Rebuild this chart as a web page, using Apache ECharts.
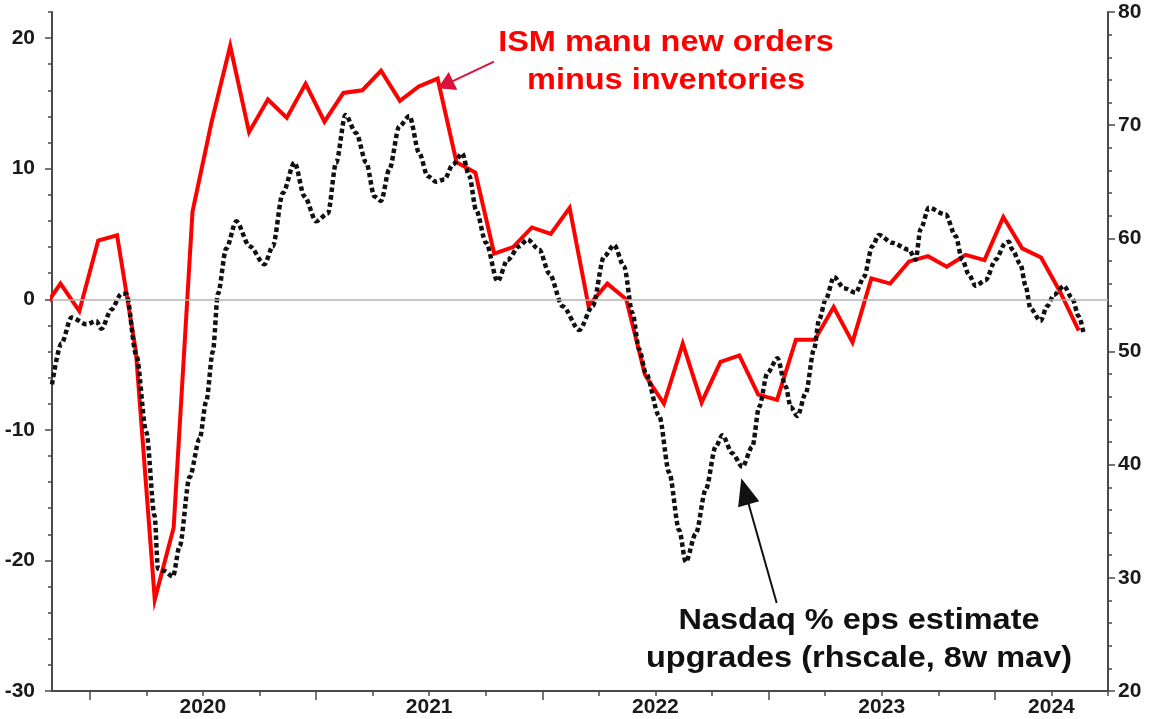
<!DOCTYPE html>
<html>
<head>
<meta charset="utf-8">
<script src="https://cdn.jsdelivr.net/npm/echarts@6/dist/echarts.min.js"></script>
<style>
html,body{margin:0;padding:0;background:#fff}
#chart{width:1154px;height:719px}
</style>
</head>
<body>
<div id="chart"></div>
<script>
// x unit: months from Jan 2020
// ISM new orders minus inventories, monthly, first value = Oct 2019 (lhs)
var ismStart = -3;
var ismValues = [-0.9, 1.2, -0.9, 4.5, 4.9, -4.0, -23.0, -17.5, 6.7, 13.5,
  19.4, 12.8, 15.3, 13.9, 16.5, 13.6, 15.8, 16.0, 17.5, 15.2,
  16.3, 16.9, 10.5, 9.7, 3.5, 4.0, 5.5, 5.0, 7.0, -0.5,
  1.2, 0.0, -5.8, -8.0, -3.4, -7.9, -4.8, -4.3, -7.3, -7.7,
  -3.1, -3.1, -0.6, -3.3, 1.6, 1.2, 2.9, 3.3, 2.5, 3.4,
  3.0, 6.3, 3.9, 3.2, 0.6, -2.4];

// Nasdaq % eps estimate upgrades, 8w mav (rhs)
var nasdaqX = [-2.0, -1.5, -0.97, -0.17, 0.35, 0.62, 1.15, 1.68, 1.94, 2.47,
  3.0, 3.44, 3.62, 3.97, 4.41, 4.77, 5.30, 5.83, 6.18, 6.53,
  6.80, 7.24, 7.77, 8.48, 9.27, 9.71, 10.24, 10.86, 11.39, 12.01,
  12.63, 13.07, 13.56, 14.13, 14.66, 15.10, 15.45, 15.89, 16.42, 16.95,
  17.48, 17.92, 18.37, 18.81, 19.25, 19.75, 20.13, 20.49, 21.02, 21.63,
  22.16, 22.78, 23.22, 23.84, 24.37, 25.08, 25.96, 26.67, 27.28, 27.81,
  28.34, 28.78, 29.14, 29.49, 30.20, 30.73, 31.26, 31.61, 32.14, 32.67,
  33.20, 33.55, 34.08, 34.61, 35.14, 35.50, 35.94, 36.47, 36.91, 37.17,
  37.53, 37.97, 38.41, 38.68, 39.03, 39.47, 40.0, 40.62, 41.06, 41.50,
  41.85, 42.56, 43.44, 43.80, 44.06, 44.50, 45.39, 45.92, 46.27, 46.62,
  46.98, 47.51, 48.04, 48.57, 48.74, 48.92, 49.36, 49.63, 49.89, 50.42,
  50.77, 51.13, 51.66, 52.10, 52.45, 52.72];
var nasdaqY = [47.1, 50.7, 53.0, 52.4, 52.7, 52.0, 53.7, 55.1, 55.1, 49.7,
  42.9, 35.5, 30.8, 30.6, 30.1, 32.8, 38.9, 42.3, 45.6, 50.0,
  55.1, 59.1, 61.5, 59.3, 57.7, 59.3, 64.0, 66.7, 63.7, 61.5,
  62.2, 66.7, 70.9, 69.3, 66.7, 63.7, 63.3, 66.1, 69.9, 70.8,
  67.5, 65.5, 65.0, 65.2, 66.5, 67.5, 65.5, 62.5, 59.6, 56.2,
  58.1, 59.3, 59.9, 59.0, 56.9, 54.0, 51.9, 54.0, 58.4, 59.4,
  57.5, 53.4, 50.2, 48.1, 44.3, 39.3, 34.2, 31.4, 33.9, 37.8,
  41.6, 42.6, 41.0, 39.8, 41.6, 45.1, 48.1, 49.4, 46.9, 45.1,
  44.3, 46.3, 50.2, 52.8, 54.6, 56.6, 55.6, 55.2, 56.6, 59.3,
  60.3, 59.6, 59.0, 58.1, 60.8, 62.7, 62.1, 60.2, 58.1, 56.8,
  55.8, 56.3, 58.1, 59.6, 59.7, 59.0, 57.7, 55.8, 53.8, 52.7,
  54.0, 55.0, 55.8, 54.7, 53.1, 51.5];

var yearLabels = ['2020', '2021', '2022', '2023', '2024'];
var yearLabelPos = [6, 18, 30, 42, 51];
var yearTicks = [0, 12, 24, 36, 48];
var quarterTicks = [3, 6, 9, 15, 18, 21, 27, 30, 33, 39, 42, 45, 51, 54];
var leftTicks = [-30, -20, -10, 0, 10, 20];
var leftMinorTicks = [-28, -26, -24, -22, -18, -16, -14, -12, -8, -6, -4, -2,
  2, 4, 6, 8, 12, 14, 16, 18, 22];

var axisColor = '#4a4a4a';
var font = 'Liberation Sans, Arial, sans-serif';
var labelStyle = { color: '#1a1a1a', fontWeight: 'bold', fontSize: 21, fontFamily: font };

var chart = echarts.init(document.getElementById('chart'));

var option = {
  animation: false,
  backgroundColor: '#fff',
  grid: { left: 52, right: 46, top: 12, bottom: 28 },
  xAxis: [
    {
      type: 'value', min: -2, max: 54,
      axisLine: { onZero: false, lineStyle: { color: axisColor, width: 2 } },
      axisTick: { customValues: yearTicks, length: 9, lineStyle: { color: axisColor, width: 1.5 } },
      axisLabel: Object.assign({
        customValues: yearLabelPos, margin: 6,
        formatter: function (v) { return yearLabels[yearLabelPos.indexOf(v)]; }
      }, labelStyle),
      splitLine: { show: false }
    },
    {
      type: 'value', min: -2, max: 54, position: 'bottom',
      axisLine: { show: false, onZero: false },
      axisTick: { customValues: quarterTicks, length: 5, lineStyle: { color: axisColor, width: 1.5 } },
      axisLabel: { show: false },
      splitLine: { show: false }
    }
  ],
  yAxis: [
    {
      type: 'value', min: -30, max: 22, position: 'left',
      axisLine: { show: true, onZero: false, lineStyle: { color: axisColor, width: 2 } },
      axisTick: { show: true, customValues: leftTicks, length: 7, lineStyle: { color: axisColor, width: 1.5 } },
      axisLabel: Object.assign({ customValues: leftTicks, margin: 17 }, labelStyle),
      splitLine: { show: false }
    },
    {
      type: 'value', min: 20, max: 80, interval: 10, position: 'right',
      axisLine: { show: true, onZero: false, lineStyle: { color: axisColor, width: 2 } },
      axisTick: { show: true, length: 7, lineStyle: { color: axisColor, width: 1.5 } },
      minorTick: { show: true, splitNumber: 5, length: 4, lineStyle: { color: axisColor, width: 1.5 } },
      axisLabel: Object.assign({ margin: 10 }, labelStyle),
      splitLine: { show: false }
    },
    {
      type: 'value', min: -30, max: 22, position: 'left',
      axisLine: { show: false, onZero: false },
      axisTick: { show: true, customValues: leftMinorTicks, length: 4, lineStyle: { color: axisColor, width: 1.5 } },
      axisLabel: { show: false },
      splitLine: { show: false }
    }
  ],
  series: [
    {
      name: 'ISM manu new orders minus inventories',
      type: 'line',
      xAxisIndex: 0, yAxisIndex: 0,
      data: ismValues.map(function (v, i) { return [ismStart + i + 0.45, v]; }),
      symbol: 'none',
      lineStyle: { color: '#ff0000', width: 4, join: 'miter' },
      clip: true,
      z: 3,
      markLine: {
        silent: true,
        symbol: ['none', 'none'],
        label: { show: false },
        data: [
          { yAxis: 0, lineStyle: { color: '#b3b3b3', width: 1.5, type: 'solid' } },
          [
            { coord: [21.44, 18.2], lineStyle: { color: '#d8143c', width: 2, type: 'solid' } },
            { coord: [18.86, 16.44], symbol: 'triangle', symbolSize: [20, 17] }
          ]
        ]
      }
    },
    {
      name: 'Nasdaq % eps estimate upgrades (rhscale, 8w mav)',
      type: 'line',
      xAxisIndex: 0, yAxisIndex: 1,
      data: nasdaqX.map(function (x, i) { return [x, nasdaqY[i]]; }),
      symbol: 'none',
      smooth: 0.3,
      smoothMonotone: 'x',
      lineStyle: { color: '#111', width: 4.5, type: [4.5, 3], cap: 'butt' },
      clip: true,
      z: 4,
      markLine: {
        silent: true,
        symbol: ['none', 'none'],
        label: { show: false },
        data: [
          [
            { coord: [36.43, 27.78], lineStyle: { color: '#111', width: 2, type: 'solid' } },
            { coord: [34.75, 37.66], symbol: 'triangle', symbolSize: [22, 27], itemStyle: { color: '#111' } }
          ]
        ]
      }
    }
  ],
  graphic: [
    {
      type: 'text', x: 666, y: 24, scaleX: 1.12,
      style: {
        text: 'ISM manu new orders\nminus inventories',
        fill: '#ff0000', font: 'bold 29px ' + font,
        align: 'center', verticalAlign: 'top', lineHeight: 38
      }
    },
    {
      type: 'text', x: 859, y: 602, scaleX: 1.12,
      style: {
        text: 'Nasdaq % eps estimate\nupgrades (rhscale, 8w mav)',
        fill: '#111', font: 'bold 29px ' + font,
        align: 'center', verticalAlign: 'top', lineHeight: 38
      }
    }
  ]
};

chart.setOption(option);
</script>
</body>
</html>
